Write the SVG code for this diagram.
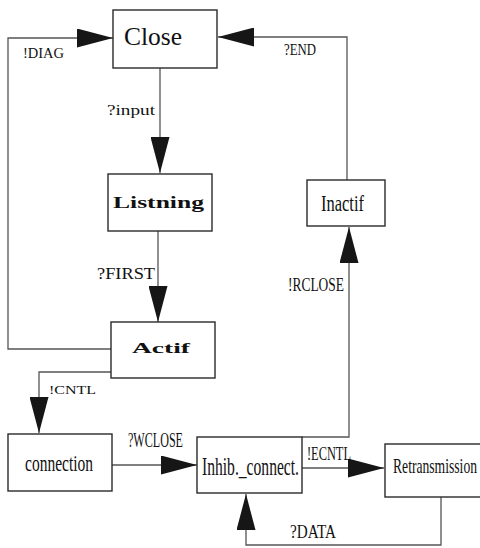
<svg xmlns="http://www.w3.org/2000/svg" width="480" height="548" viewBox="0 0 480 548" font-family="'Liberation Serif', 'DejaVu Serif', serif">
  <style>
    .box { fill: #ffffff; stroke: #2a2a2a; stroke-width: 1.4; }
    .edge { fill: none; stroke: #555555; stroke-width: 1.3; }
    .lbl { fill: #111111; }
    .spaced { font-weight: 600; }
  </style>
  <defs>
    <marker id="head" markerUnits="userSpaceOnUse" markerWidth="37" markerHeight="19" refX="36" refY="9.5" orient="auto">
      <path d="M0,0 L36,9.5 L0,19 Z" fill="#161616"/>
    </marker>
  </defs>

  <g id="connectors">
    <path class="edge" d="M111,349 H8 V38 H113" marker-end="url(#head)"/>
    <path class="edge" d="M347,180 V37 H218" marker-end="url(#head)"/>
    <path class="edge" d="M160,68 V173" marker-end="url(#head)"/>
    <path class="edge" d="M158,231 V322" marker-end="url(#head)"/>
    <path class="edge" d="M111,372 H39 V433" marker-end="url(#head)"/>
    <path class="edge" d="M112,465 H197" marker-end="url(#head)"/>
    <path class="edge" d="M302,468 H384" marker-end="url(#head)"/>
    <path class="edge" d="M302,437 H349 V227" marker-end="url(#head)"/>
    <path class="edge" d="M441,497 V545 H246 V494" marker-end="url(#head)"/>

    <text class="lbl" x="23" y="58" font-size="14" textLength="41" lengthAdjust="spacingAndGlyphs">!DIAG</text>
    <text class="lbl" x="284" y="55" font-size="17" textLength="32" lengthAdjust="spacingAndGlyphs">?END</text>
    <text class="lbl" x="107" y="115" font-size="15" textLength="48" lengthAdjust="spacingAndGlyphs">?input</text>
    <text class="lbl" x="97" y="279" font-size="16" textLength="58" lengthAdjust="spacingAndGlyphs">?FIRST</text>
    <text class="lbl" x="49" y="394" font-size="13" textLength="47" lengthAdjust="spacingAndGlyphs">!CNTL</text>
    <text class="lbl" x="128" y="447" font-size="20" textLength="55" lengthAdjust="spacingAndGlyphs">?WCLOSE</text>
    <text class="lbl" x="307" y="460" font-size="19" textLength="44" lengthAdjust="spacingAndGlyphs">!ECNTL</text>
    <text class="lbl" x="288" y="291" font-size="19" textLength="56" lengthAdjust="spacingAndGlyphs">!RCLOSE</text>
    <text class="lbl" x="290" y="538" font-size="19" textLength="46" lengthAdjust="spacingAndGlyphs">?DATA</text>
  </g>

  <g id="close">
    <rect class="box" x="113" y="10" width="104" height="58"/>
    <text class="lbl" x="124" y="45" font-size="25" textLength="58" lengthAdjust="spacingAndGlyphs">Close</text>
  </g>

  <g id="listning">
    <rect class="box" x="108" y="174" width="104" height="57"/>
    <text class="lbl spaced" x="113" y="208" font-size="16" textLength="91" lengthAdjust="spacingAndGlyphs">Listning</text>
  </g>

  <g id="actif">
    <rect class="box" x="111" y="322" width="104" height="56"/>
    <text class="lbl spaced" x="132" y="353" font-size="15" textLength="58" lengthAdjust="spacingAndGlyphs">Actif</text>
  </g>

  <g id="inactif">
    <rect class="box" x="307" y="180" width="78" height="46"/>
    <text class="lbl" x="321" y="211" font-size="24" textLength="43" lengthAdjust="spacingAndGlyphs">Inactif</text>
  </g>

  <g id="connection">
    <rect class="box" x="8" y="434" width="104" height="57"/>
    <text class="lbl" x="25" y="471" font-size="24" textLength="68" lengthAdjust="spacingAndGlyphs">connection</text>
  </g>

  <g id="inhib-connect">
    <rect class="box" x="197" y="437" width="105" height="56"/>
    <text class="lbl" x="202" y="475" font-size="26" textLength="97" lengthAdjust="spacingAndGlyphs">Inhib._connect.</text>
  </g>

  <g id="retransmission">
    <rect class="box" x="385" y="444" width="110" height="53"/>
    <text class="lbl" x="393" y="473" font-size="21" textLength="84" lengthAdjust="spacingAndGlyphs">Retransmission</text>
  </g>
</svg>
